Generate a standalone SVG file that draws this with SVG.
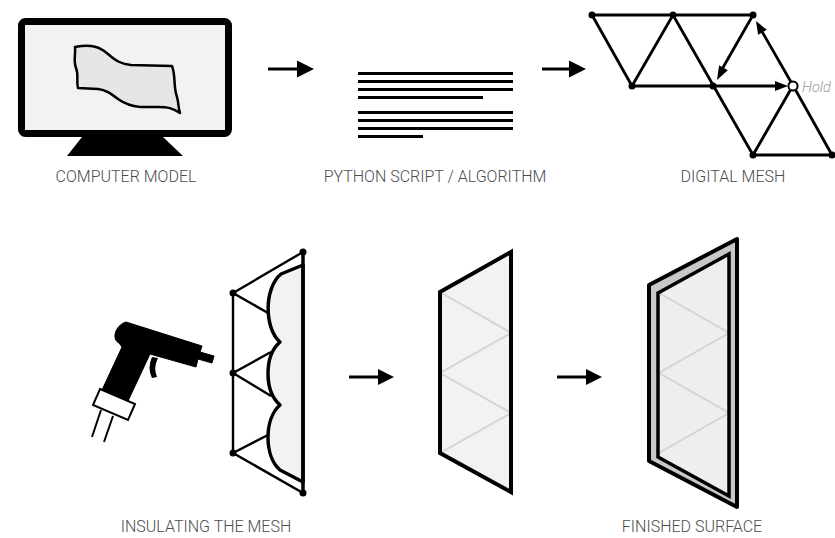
<svg xmlns="http://www.w3.org/2000/svg" width="835" height="538" viewBox="0 0 835 538">
  <defs>
    <style>
      .label { font-family: Roboto, "Liberation Sans", sans-serif; font-weight: 300; font-size: 16px; fill: #4d4d4d; text-anchor: middle; }
      .hold { font-family: Roboto, "Liberation Sans", sans-serif; font-style: italic; font-weight: 300; font-size: 14.5px; fill: #999; }
      .ln { stroke: #000; stroke-width: 3; fill: none; }
      .mesh { stroke: #000; stroke-width: 2.8; fill: none; stroke-linecap: round; }
      .frame { stroke: #000; stroke-width: 2.4; fill: none; }
      .dot { fill: #000; }
      .head { fill: #000; }
    </style>
  </defs>
  <rect width="835" height="538" fill="#fff"/>

  <!-- stage 1: monitor with a free-form surface -->
  <g id="computer-model">
    <rect x="21.5" y="21.5" width="207" height="112" rx="4" fill="#f2f2f2" stroke="#000" stroke-width="7"/>
    <polygon points="82,137 163,137 183,156 67,156" fill="#000"/>
    <path d="M75,47 C92,44 100,47 108,54 C116,61 121,64 131,65 L172,66 C176,76 173,86 177,97 C179,104 178,108 180,113 C172,108 168,107 158,107 L140,107 C130,106 125,104 118,99 C110,93 106,90 98,89 L78,88 C76,80 79,75 76,68 C73,60 76,53 75,47 Z" fill="#e6e6e6" stroke="#000" stroke-width="2.5" stroke-linejoin="round"/>
    <text class="label" x="126" y="182">COMPUTER MODEL</text>
  </g>

  <!-- stage 2: script listing -->
  <g id="python-script">
    <g class="ln">
      <line x1="358" y1="73.5" x2="513" y2="73.5"/>
      <line x1="358" y1="81.5" x2="513" y2="81.5"/>
      <line x1="358" y1="89.5" x2="513" y2="89.5"/>
      <line x1="358" y1="97.5" x2="483" y2="97.5"/>
      <line x1="358" y1="112.5" x2="513" y2="112.5"/>
      <line x1="358" y1="120.5" x2="513" y2="120.5"/>
      <line x1="358" y1="128.5" x2="513" y2="128.5"/>
      <line x1="358" y1="136.5" x2="423" y2="136.5"/>
    </g>
    <text class="label" x="435" y="182">PYTHON SCRIPT / ALGORITHM</text>
  </g>

  <!-- stage 3: triangulated mesh with a held node -->
  <g id="digital-mesh">
    <g class="mesh">
      <line x1="592" y1="15" x2="753" y2="15"/>
      <line x1="632" y1="86" x2="777" y2="86"/>
      <line x1="753" y1="155" x2="835" y2="155"/>
      <line x1="592" y1="15" x2="632" y2="86"/>
      <line x1="632" y1="86" x2="673" y2="15"/>
      <line x1="673" y1="15" x2="753" y2="155"/>
      <line x1="753" y1="15" x2="721" y2="71"/>
      <line x1="791" y1="82" x2="760" y2="28"/>
      <line x1="795" y1="89" x2="832" y2="155"/>
      <line x1="791" y1="89" x2="753" y2="155"/>
    </g>
    <polygon class="head" points="717,80 727.8,70.2 719.1,65.2"/>
    <polygon class="head" points="756,21 766.8,29.8 758.1,34.8"/>
    <polygon class="head" points="788,86 775,81 775,91"/>
    <g>
      <circle class="dot" cx="592" cy="15" r="3.5"/>
      <circle class="dot" cx="673" cy="15" r="3.5"/>
      <circle class="dot" cx="753" cy="15" r="3.5"/>
      <circle class="dot" cx="632" cy="86" r="3.5"/>
      <circle class="dot" cx="713" cy="86" r="3.5"/>
      <circle class="dot" cx="753" cy="155" r="3.5"/>
      <circle class="dot" cx="832" cy="155" r="3.5"/>
    </g>
    <circle cx="793" cy="86" r="4.6" fill="#fff" stroke="#000" stroke-width="2"/>
    <text class="hold" x="802" y="91.5">Hold</text>
    <text class="label" x="733" y="182">DIGITAL MESH</text>
  </g>

  <!-- stage 4: heat gun spraying the mesh -->
  <g id="insulating-the-mesh">
    <g id="heat-gun">
      <path d="M126,322 L202,346 L200,352 L214,356 L212,363 L198,359 L196,367 L150,354 L128,401 L102,390 L122,347 L119,343 C112,340 114,326 126,322 Z" fill="#000" stroke="#000" stroke-width="1" stroke-linejoin="round"/>
      <path d="M152,357 Q147,368 152,378 L157,377 Q153,368 158,358 Z" fill="#000"/>
      <polygon points="100,389 135,404 128,420 93,405" fill="#fff" stroke="#000" stroke-width="2"/>
      <line x1="101" y1="410" x2="92" y2="437" stroke="#000" stroke-width="2"/>
      <line x1="113" y1="416" x2="104" y2="442" stroke="#000" stroke-width="2"/>
    </g>
    <g class="frame">
      <line x1="233" y1="293" x2="233" y2="453"/>
      <line x1="233" y1="293" x2="303" y2="252"/>
      <line x1="233" y1="453" x2="303" y2="493"/>
      <line x1="233" y1="293" x2="268" y2="313"/>
      <line x1="233" y1="373" x2="271" y2="352"/>
      <line x1="233" y1="373" x2="271" y2="396"/>
      <line x1="233" y1="453" x2="268" y2="435"/>
    </g>
    <path d="M303,265 L281,274 C264,288 264,328 280,342 C264,356 264,391 280,405 C264,419 264,456 280,470 L303,482 Z" fill="#f2f2f2" stroke="#000" stroke-width="3.5" stroke-linejoin="round"/>
    <line x1="303" y1="252" x2="303" y2="493" stroke="#000" stroke-width="3.5"/>
    <circle class="dot" cx="233" cy="293" r="3.5"/>
    <circle class="dot" cx="233" cy="373" r="3.5"/>
    <circle class="dot" cx="233" cy="453" r="3.5"/>
    <circle class="dot" cx="303" cy="252" r="3.5"/>
    <circle class="dot" cx="303" cy="493" r="3.5"/>
    <text class="label" x="206" y="532">INSULATING THE MESH</text>
  </g>

  <!-- stage 5: insulated panel -->
  <g id="insulated-panel">
    <polygon points="440,292 511,252 511,492 440,453" fill="#f2f2f2"/>
    <polyline points="440,292 511,333 440,373 511,413 440,453" fill="none" stroke="#d4d4d4" stroke-width="2"/>
    <polygon points="440,292 511,252 511,492 440,453" fill="none" stroke="#000" stroke-width="4"/>
  </g>

  <!-- stage 6: finished surface with edge band -->
  <g id="finished-surface">
    <polygon points="649,285 737,239 737,507 649,461" fill="#c8c8c8" stroke="#000" stroke-width="4" stroke-linejoin="round"/>
    <polygon points="658,293 729,254 729,496 658,457" fill="#eeeeee"/>
    <polyline points="659,293 729,333 659,373 729,413 659,453" fill="none" stroke="#d4d4d4" stroke-width="2"/>
    <polygon points="658,293 729,254 729,496 658,457" fill="none" stroke="#000" stroke-width="3.5"/>
    <text class="label" x="692" y="532">FINISHED SURFACE</text>
  </g>

  <!-- process arrows -->
  <g id="connectors">
    <line x1="268" y1="69" x2="300" y2="69" class="ln"/>
    <polygon class="head" points="314,69 297,60.5 297,77.5"/>
    <line x1="542" y1="69" x2="572" y2="69" class="ln"/>
    <polygon class="head" points="586,69 569,60.5 569,77.5"/>
    <line x1="349" y1="377" x2="380" y2="377" class="ln"/>
    <polygon class="head" points="394,377 378,369 378,385"/>
    <line x1="557" y1="377" x2="588" y2="377" class="ln"/>
    <polygon class="head" points="602,377 586,369 586,385"/>
  </g>
</svg>
